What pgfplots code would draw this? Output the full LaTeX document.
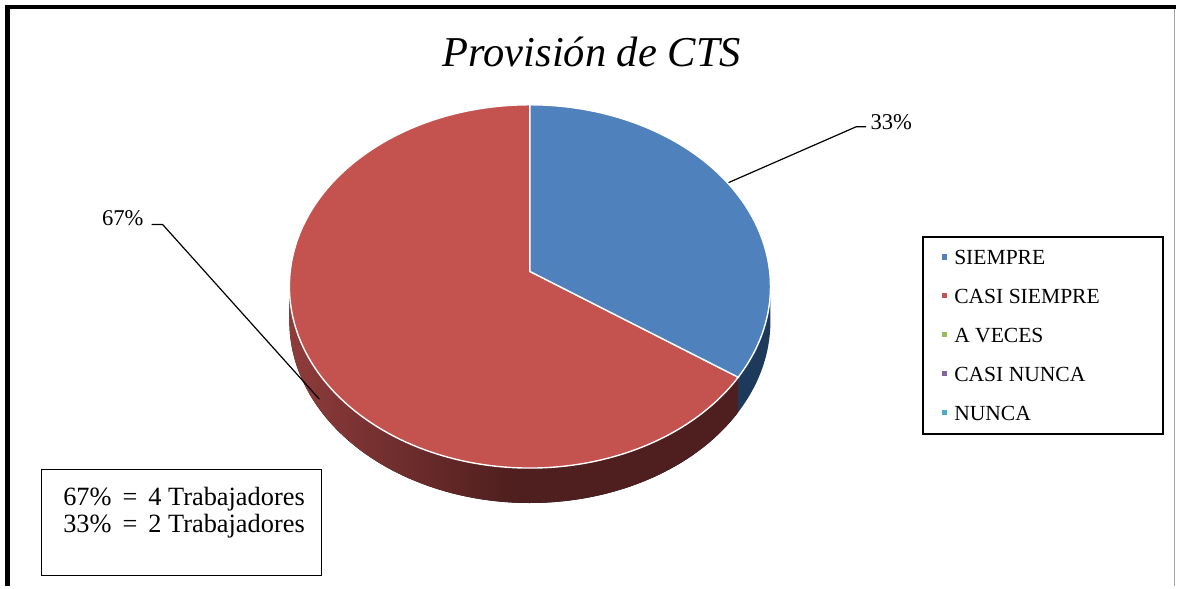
\documentclass[border=0pt]{standalone}
\usepackage{fontspec}
\setmainfont{Liberation Serif}
\usepackage{pgfplots}
\usepackage{pgfplotstable}
\pgfplotsset{compat=1.18}

\definecolor{cBlue}{HTML}{4F81BD}
\definecolor{cRed}{HTML}{C4524F}
\definecolor{cGreen}{HTML}{9BBB59}
\definecolor{cPurple}{HTML}{8064A2}
\definecolor{cCyan}{HTML}{4BACC6}
\definecolor{sideRedL}{HTML}{8E3C3B}
\definecolor{sideRedD}{HTML}{4F1E1E}
\definecolor{sideBlue}{HTML}{1E3A5A}

% trabajadores por respuesta
\pgfplotstableread{
id n
1 2
2 4
3 0
4 0
5 0
}\datatable
\pgfplotstablegetelem{0}{n}\of\datatable \let\nA\pgfplotsretval
\pgfplotstablegetelem{1}{n}\of\datatable \let\nB\pgfplotsretval
\pgfmathsetmacro\total{\nA+\nB}
\pgfmathsetmacro\ab{450-360*\nA/\total}   % borde azul/rojo
\pgfmathtruncatemacro\pA{round(100*\nA/\total)}
\pgfmathtruncatemacro\pB{round(100*\nB/\total)}

\begin{document}
\begin{tikzpicture}
\begin{axis}[
    x=0.5pt, y=0.5pt,
    xmin=0, xmax=1178, ymin=0, ymax=587,
    scale only axis,
    hide axis,
    clip=false,
    legend image code/.code={\fill[#1,draw=none] (0pt,-1.3pt) rectangle (2.6pt,1.3pt);},
    legend cell align=left,
    legend style={
        at={(axis cs:944,337)}, anchor=north west,
        draw=none, fill=none, inner sep=0pt, outer sep=0pt,
        row sep=12pt,
        font=\fontsize{10.8}{12}\selectfont,
        nodes={inner ysep=0pt, inner xsep=3.5pt, text height=7.5pt, text depth=0pt},
    },
]
% marco
\path (axis cs:0,0) rectangle (axis cs:1178,587);
\draw[line width=2.4pt] (axis cs:7.5,0) -- (axis cs:7.5,580) -- (axis cs:1178,580);
\draw[gray!70, line width=0.5pt] (axis cs:1177,0) -- (axis cs:1177,578);

% lados del pastel
\fill[left color=sideRedL, right color=sideRedD, middle color=sideRedD]
    (axis cs:290,300) arc[start angle=180, end angle=\ab, x radius=120.5pt, y radius=91pt]
    -- ++(0,-17.5pt) arc[start angle=\ab, end angle=180, x radius=120.5pt, y radius=91pt] -- cycle;
\fill[sideBlue]
    (axis cs:{531+241*cos(\ab)},{300+182*sin(\ab)}) arc[start angle=\ab, end angle=360, x radius=120.5pt, y radius=91pt]
    -- ++(0,-17.5pt) arc[start angle=360, end angle=\ab, x radius=120.5pt, y radius=91pt] -- cycle;

% cara superior
\filldraw[fill=cRed, draw=white, line width=0.7pt]
    (axis cs:531,315) -- (axis cs:531,482)
    arc[start angle=90, end angle=\ab, x radius=120.5pt, y radius=91pt] -- cycle;
\filldraw[fill=cBlue, draw=white, line width=0.7pt]
    (axis cs:531,315) -- (axis cs:{531+241*cos(\ab)},{300+182*sin(\ab)})
    arc[start angle=\ab, end angle=450, x radius=120.5pt, y radius=91pt] -- cycle;

% etiquetas
\draw[line width=0.6pt] (axis cs:730,404) -- (axis cs:858,460) -- (axis cs:868,460);
\node[anchor=west, inner sep=0pt, font=\fontsize{11.3}{12}\selectfont] at (axis cs:872,465) {\pA\%};
\draw[line width=0.6pt] (axis cs:152,362) -- (axis cs:163,362) -- (axis cs:320,187);
\node[anchor=west, inner sep=0pt, font=\fontsize{11.3}{12}\selectfont] at (axis cs:102,368) {\pB\%};

% titulo
\node[anchor=base, inner sep=0pt, font=\fontsize{21.3}{24}\selectfont\itshape] at (axis cs:593,520) {Provisión de CTS};

% leyenda
\draw[line width=1pt] (axis cs:925,152) rectangle (axis cs:1165,350);
\addlegendimage{fill=cBlue}
\addlegendentry{SIEMPRE}
\addlegendimage{fill=cRed}
\addlegendentry{CASI SIEMPRE}
\addlegendimage{fill=cGreen}
\addlegendentry{A VECES}
\addlegendimage{fill=cPurple}
\addlegendentry{CASI NUNCA}
\addlegendimage{fill=cCyan}
\addlegendentry{NUNCA}

% recuadro
\draw[line width=0.5pt] (axis cs:42,10) rectangle (axis cs:322,117);
\node[anchor=base west, inner sep=0pt, font=\fontsize{13.2}{14}\selectfont] at (axis cs:63,80.5) {\pB\%\ \,=\ \,\nB\ Trabajadores};
\node[anchor=base west, inner sep=0pt, font=\fontsize{13.2}{14}\selectfont] at (axis cs:63,53) {\pA\%\ \,=\ \,\nA\ Trabajadores};
\end{axis}
\end{tikzpicture}
\end{document}
